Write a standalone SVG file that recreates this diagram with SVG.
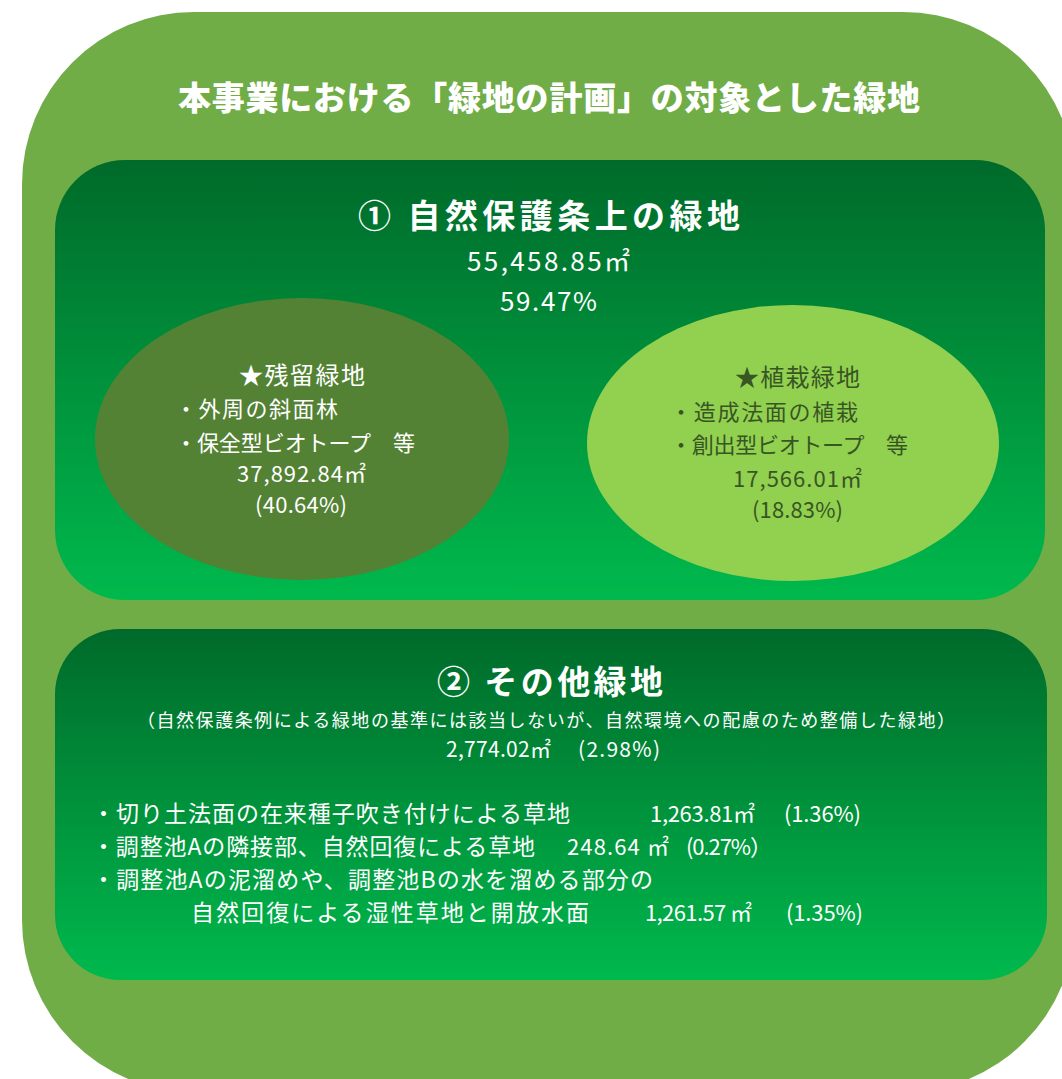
<svg xmlns="http://www.w3.org/2000/svg" width="1062" height="1079" viewBox="0 0 1062 1079">
<defs>
<linearGradient id="gBox" x1="0" y1="0" x2="0" y2="1">
<stop offset="0" stop-color="#006A2A"/>
<stop offset="1" stop-color="#00B94D"/>
</linearGradient>
<style>
text{font-family:"Noto Sans CJK JP","Noto Sans",sans-serif;}
.w{fill:#FFFFFF;}
.d{fill:#375623;}
.h{font-weight:900;}
.b{font-weight:700;}
.s23{font-size:23px;}
.s22{font-size:22px;}
.s24{font-size:24px;}
</style>
</defs>
<rect width="1062" height="1079" fill="#FFFFFF"/>
<g id="outer">
<rect x="22" y="12" width="1053" height="1080" rx="172" ry="172" fill="#70AD47"/>
<text class="w h" x="178" y="110" font-size="33" textLength="742">本事業における「緑地の計画」の対象とした緑地</text>
</g>
<g id="box1">
<rect x="55" y="160" width="990" height="440" rx="70" ry="70" fill="url(#gBox)"/>
<text class="w b" x="358" y="228" font-size="33" textLength="382">① 自然保護条上の緑地</text>
<text class="w" x="467" y="271" font-size="26" textLength="163">55,458.85㎡</text>
<text class="w" x="500" y="311" font-size="26" textLength="97">59.47%</text>
</g>
<g id="ellipse-left">
<ellipse cx="302" cy="439" rx="207" ry="141" fill="#548235"/>
<text class="w s24" x="239" y="384" textLength="126">★残留緑地</text>
<text class="w s22" x="175" y="417" textLength="163">・外周の斜面林</text>
<text class="w s22" x="175" y="451" textLength="240">・保全型ビオトープ　等</text>
<text class="w s22" x="237" y="482" textLength="129">37,892.84㎡</text>
<text class="w s22" x="255" y="513" textLength="92">(40.64%)</text>
</g>
<g id="ellipse-right">
<ellipse cx="793" cy="443" rx="206" ry="138" fill="#92D050"/>
<text class="d s24" x="735" y="386" textLength="125">★植栽緑地</text>
<text class="d s22" x="670" y="420" textLength="188">・造成法面の植栽</text>
<text class="d s22" x="670" y="453" textLength="238">・創出型ビオトープ　等</text>
<text class="d s22" x="733" y="487" textLength="129">17,566.01㎡</text>
<text class="d s22" x="752" y="518" textLength="91">(18.83%)</text>
</g>
<g id="box2">
<rect x="55" y="629" width="992" height="351" rx="65" ry="65" fill="url(#gBox)"/>
<text class="w b" x="437" y="694" font-size="33" textLength="226">② その他緑地</text>
<text class="w" x="137" y="727" font-size="18" textLength="818">（自然保護条例による緑地の基準には該当しないが、自然環境への配慮のため整備した緑地）</text>
<text class="w" x="446" y="757" font-size="21" textLength="105">2,774.02㎡</text>
<text class="w" x="578" y="757" font-size="21" textLength="82">(2.98%)</text>
<text class="w s23" x="92" y="822" textLength="478">・切り土法面の在来種子吹き付けによる草地</text>
<text class="w s22" x="650" y="822" textLength="105">1,263.81㎡</text>
<text class="w s22" x="784" y="822" textLength="77">(1.36%)</text>
<text class="w s23" x="92" y="855" textLength="443">・調整池Aの隣接部、自然回復による草地</text>
<text class="w s22" x="567" y="855" textLength="102">248.64 ㎡</text>
<text class="w s22" x="686" y="855" textLength="86">(0.27%）</text>
<text class="w s23" x="92" y="888" textLength="561">・調整池Aの泥溜めや、調整池Bの水を溜める部分の</text>
<text class="w s23" x="191" y="921" textLength="398">自然回復による湿性草地と開放水面</text>
<text class="w s22" x="645" y="921" textLength="107">1,261.57 ㎡</text>
<text class="w s22" x="786" y="921" textLength="77">(1.35%)</text>
</g>
<g id="connectors"/>
</svg>
